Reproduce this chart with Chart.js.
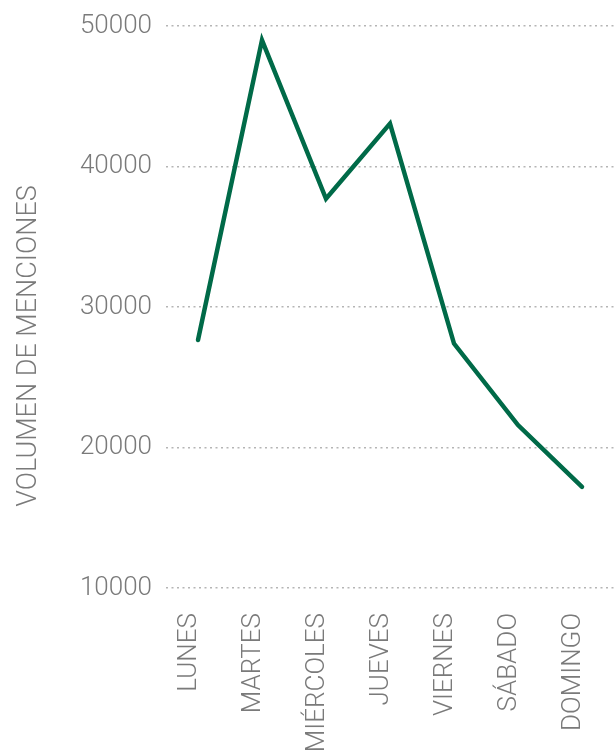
<!DOCTYPE html>
<html>
<head>
<meta charset="utf-8">
<script src="https://cdn.jsdelivr.net/npm/chart.js@4/dist/chart.umd.min.js"></script>
<style>
  html, body { margin: 0; padding: 0; background: #ffffff; }
  #wrap { width: 614px; height: 753px; }
</style>
</head>
<body>
<div id="wrap"><canvas id="chart" width="614" height="753"></canvas></div>
<script>
// Menciones por día de la semana
const dias = ['LUNES', 'MARTES', 'MIÉRCOLES', 'JUEVES', 'VIERNES', 'SÁBADO', 'DOMINGO'];
const menciones = [27650, 49000, 37700, 43050, 27400, 21600, 17200];
const ticksY = [10000, 20000, 30000, 40000, 50000];
const tituloY = 'VOLUMEN DE MENCIONES';

const FONT = 'Roboto';
const GRIS = '#7a7a7a';

// Título vertical del eje Y, dibujado a mano para situarlo libremente
const tituloEjeY = {
  id: 'tituloEjeY',
  afterDraw(chart) {
    const ctx = chart.ctx;
    ctx.save();
    ctx.translate(29, 346);
    ctx.rotate(-Math.PI / 2);
    ctx.font = '300 27px ' + FONT;
    ctx.fillStyle = GRIS;
    ctx.textAlign = 'center';
    ctx.textBaseline = 'middle';
    ctx.fillText(tituloY, 0, 0);
    ctx.restore();
  }
};

new Chart(document.getElementById('chart'), {
  type: 'line',
  data: {
    labels: dias,
    datasets: [{
      data: menciones,
      borderColor: '#006a48',
      borderWidth: 4.5,
      pointRadius: 0,
      tension: 0,
      fill: false,
      borderCapStyle: 'round',
      borderJoinStyle: 'miter'
    }]
  },
  options: {
    responsive: false,
    animation: false,
    layout: { padding: { top: 26, right: 0, left: 0, bottom: 0 } },
    plugins: {
      legend: { display: false },
      tooltip: { enabled: false }
    },
    scales: {
      x: {
        offset: true,
        grid: { display: false, drawTicks: false },
        border: { display: false },
        ticks: {
          color: GRIS,
          font: { family: FONT, size: 26, weight: '300' },
          minRotation: 90,
          maxRotation: 90,
          padding: 25,
          labelOffset: -9,
          autoSkip: false
        },
        afterFit(scale) {
          scale.height = 165;
          scale.paddingLeft = 0;
          scale.paddingRight = 0;
        }
      },
      y: {
        min: 10000,
        max: 50000,
        afterBuildTicks(scale) { scale.ticks = ticksY.map(v => ({ value: v })); },
        grid: {
          color: '#b5b5b5',
          lineWidth: 1.5,
          drawTicks: false
        },
        border: { display: false, dash: [2, 3.5] },
        ticks: {
          color: GRIS,
          font: { family: FONT, size: 26, weight: '300' },
          padding: 14,
          callback: v => String(v)
        },
        afterFit(scale) {
          scale.width = 166;
          scale.paddingTop = 0;
          scale.paddingBottom = 0;
        }
      }
    }
  },
  plugins: [tituloEjeY]
});
</script>
</body>
</html>
